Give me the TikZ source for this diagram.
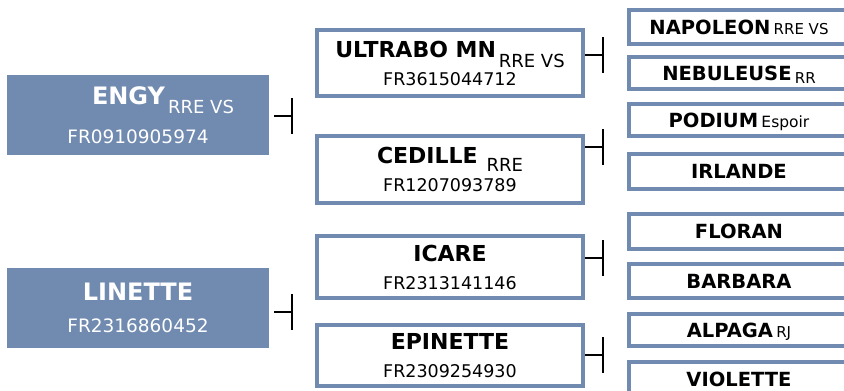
\documentclass[tikz,border=0pt]{standalone}
\usepackage{fontspec}
\setmainfont{DejaVu Sans}
\usepackage{tikz}
\usetikzlibrary{positioning,calc}
\usepackage{xcolor}

\definecolor{pedblue}{RGB}{112,138,176}

% name and suffix helpers
\newcommand{\signame}[1]{{\bfseries\fontsize{24}{24}\selectfont #1}}
\newcommand{\damname}[1]{{\bfseries\fontsize{22}{22}\selectfont #1}}
\newcommand{\sfx}[3][0pt]{\,\raisebox{-#1}{\mdseries\fontsize{#2}{#2}\selectfont #3}}

\begin{document}
\begin{tikzpicture}[x=1pt, y=-1pt,
    sire/.style={fill=pedblue, text=white, minimum width=262pt, minimum height=80pt,
        inner sep=0pt, align=center, font=\fontsize{18.5}{32}\selectfont},
    parent/.style={draw=pedblue, line width=4pt, fill=white, minimum width=266pt,
        inner sep=0pt, align=center, font=\fontsize{17.5}{28}\selectfont},
    leaf/.style={draw=pedblue, line width=4pt, fill=white, minimum width=220pt,
        inner sep=0pt, text height=14pt, text depth=0pt,
        font=\bfseries\fontsize{19.5}{22}\selectfont},
    link/.style={line width=1.6pt, black}
]
    \path[use as bounding box] (0,0) rectangle (844,391);
    \clip (0,0) rectangle (844,391);

    % Sires
    \node[sire] (engy) at (138,115) {\hspace*{50pt}\signame{ENGY}\sfx[9pt]{18}{RRE VS}\\[7pt] FR0910905974};
    \node[sire] (linette) at (138,307.5) {\signame{LINETTE}\\ FR2316860452};

    % Parents
    \node[parent, minimum height=66pt] (ultrabo) at (450,63) {\damname{ULTRABO MN}\sfx[10pt]{18}{RRE VS}\\ FR3615044712};
    \node[parent, minimum height=67pt] (cedille) at (450,169.5) {\damname{CEDILLE}\hspace{6pt}\sfx[8pt]{18}{RRE}\\ FR1207093789};
    \node[parent, minimum height=62pt] (icare) at (450,267) {\damname{ICARE}\\ FR2313141146};
    \node[parent, minimum height=61pt] (epinette) at (450,355.5) {\damname{EPINETTE}\\ FR2309254930};

    % Grandparents
    \foreach \n/\t/\y/\h in {napoleon/{NAPOLEON\sfx{15}{RRE VS}}/27/34,
                             nebuleuse/{NEBULEUSE\sfx[3pt]{15}{RR}}/73/32,
                             podium/{PODIUM\sfx{15.5}{Espoir}}/120/32,
                             irlande/{IRLANDE}/171.5/35,
                             floran/{FLORAN}/231.5/35,
                             barbara/{BARBARA}/281/34,
                             alpaga/{ALPAGA\sfx{15}{RJ}}/330/32,
                             violette/{VIOLETTE}/379/34} {
        \node[leaf, minimum height=\h pt] (\n) at (739,\y) {\t};
    }

    % Links
    \foreach \n/\x/\y/\g in {engy/292/116/5, linette/292/312/5,
                             ultrabo/603/55/0, cedille/603/147/0,
                             icare/603/258/0, epinette/603/355/0} {
        \coordinate (j\n) at (\x,\y);
        \draw[link, shorten <=\g pt] (\n.east |- j\n) -- (j\n);
        \draw[link] ([yshift=18pt]j\n) -- ([yshift=-18pt]j\n);
    }
\end{tikzpicture}
\end{document}
